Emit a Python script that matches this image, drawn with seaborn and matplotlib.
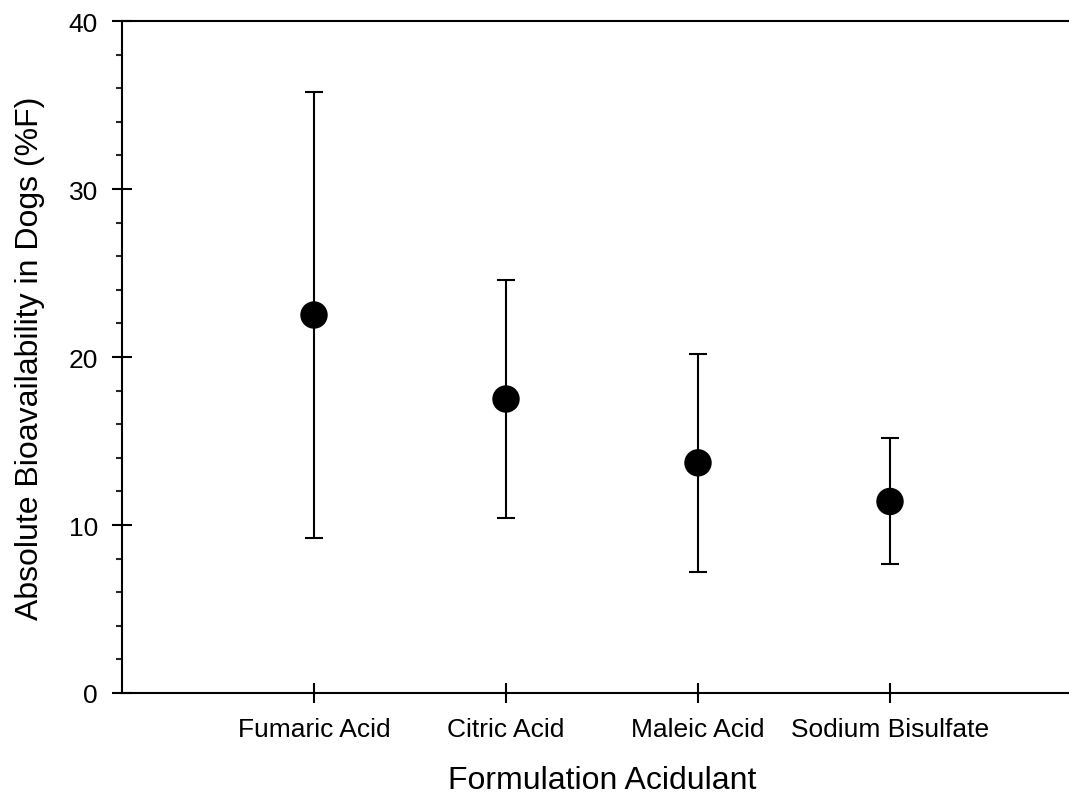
import matplotlib
matplotlib.use('Agg')
from matplotlib import pyplot as plt
from matplotlib.ticker import MultipleLocator
import numpy as np
import pandas as pd
import seaborn as sns

# values
acidulants = ['Fumaric Acid', 'Citric Acid', 'Maleic Acid', 'Sodium Bisulfate']
mean_f = [22.5, 17.5, 13.7, 11.4]
upper_f = [35.8, 24.6, 20.2, 15.15]
lower_f = [9.2, 10.4, 7.2, 7.65]

df = pd.DataFrame({'Acidulant': acidulants, 'F': mean_f, 'hi': upper_f, 'lo': lower_f})

# seaborn style
sns.set_style('ticks')
plt.rcParams['font.family'] = ['Liberation Sans', 'DejaVu Sans']
plt.rcParams['text.color'] = 'black'
plt.rcParams['axes.labelcolor'] = 'black'

fig = plt.figure(figsize=(10.69, 8.03), dpi=100)
ax = fig.add_axes([122 / 1069, 109 / 803, 960 / 1069, 672 / 803])

# error bars first, markers on top
yerr = np.array([df['F'] - df['lo'], df['hi'] - df['F']])
ax.errorbar(df['Acidulant'], df['F'], yerr=yerr, fmt='none', ecolor='black',
            elinewidth=1.5, capsize=6.8, capthick=1.5, zorder=2)
sns.scatterplot(data=df, x='Acidulant', y='F', s=390, color='black',
                edgecolor='none', zorder=3, ax=ax)

# axis limits and ticks
ax.set_xlim(-1, 4)
ax.set_ylim(0, 40)
ax.yaxis.set_major_locator(MultipleLocator(10))
ax.yaxis.set_minor_locator(MultipleLocator(2))
ax.tick_params(axis='both', which='major', direction='inout', length=13.7,
               width=1.5, pad=10.5, labelsize=19, colors='black')
ax.tick_params(axis='y', which='minor', direction='out', length=4, width=1.5)

# spines
for side in ['left', 'top', 'bottom']:
    ax.spines[side].set_linewidth(1.5)
    ax.spines[side].set_color('black')
ax.spines['right'].set_visible(False)

ax.set_xlabel('Formulation Acidulant', fontsize=23, labelpad=17, color='black')
ax.set_ylabel('Absolute Bioavailability in Dogs (%F)', fontsize=23, labelpad=17, color='black')

fig.savefig('out.png', dpi=100, facecolor='white')
